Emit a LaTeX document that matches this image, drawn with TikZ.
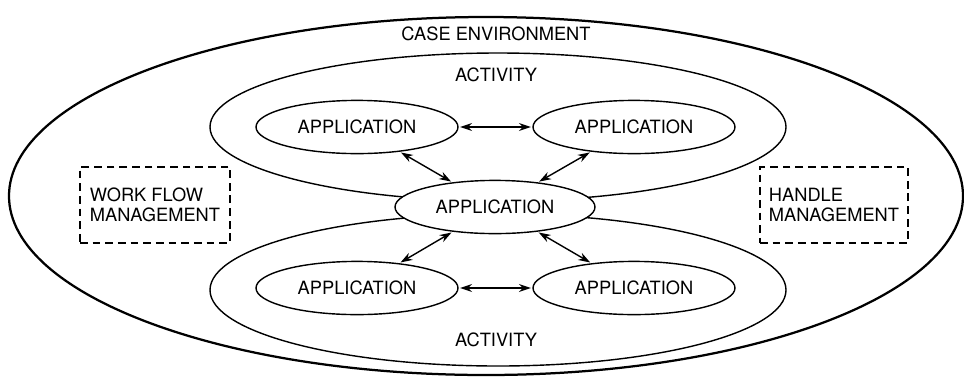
\documentclass[tikz,border=0pt]{standalone}
\usepackage{fontspec}
\setmainfont{TeX Gyre Heros}
\usetikzlibrary{arrows.meta, positioning, shapes.geometric}
\tikzset{
  every picture/.style={font=\fontsize{13}{14.5}\selectfont, line width=1pt},
  oval/.style={ellipse, draw, inner sep=0pt, minimum width=#1},
  app/.style={oval=5.05cm, fill=white, minimum height=1.33cm},
  link/.style={{Stealth[length=3mm, width=2mm]}-{Stealth[length=3mm, width=2mm]}, shorten <=1pt, shorten >=1pt},
  mgmt/.style={draw, dash pattern=on 5.5pt off 3.5pt, align=left, minimum height=1.9cm, minimum width=#1},
  heading/.style={inner sep=1pt},
}

\begin{document}
\begin{tikzpicture}
  \useasboundingbox (0,0) rectangle (24.1,-9.4);
  % case environment and the two activities
  \node[oval=23.85cm, minimum height=8.95cm, line width=1.6pt] (env) at (12.15,-4.9) {};
  \node[heading] (envt) at (12.4,-0.85) {CASE ENVIRONMENT};
  \node[oval=14.4cm, minimum height=3.7cm] (act1) at (12.45,-3.175) {};
  \node[oval=14.4cm, minimum height=3.8cm] (act2) at (12.45,-7.25) {};
  \node[heading] (act1t) at (12.4,-1.875) {ACTIVITY};
  \node[heading] (act2t) at (12.4,-8.5) {ACTIVITY};
  % applications
  \node[app, minimum width=5cm] (c) at (12.375,-5.175) {APPLICATION};
  \node[app] (tl) at (8.925,-3.175) {APPLICATION};
  \node[app] (tr) at (15.85,-3.175) {APPLICATION};
  \node[app] (bl) at (8.925,-7.2) {APPLICATION};
  \node[app] (br) at (15.85,-7.2) {APPLICATION};
  \draw[link] (tl) -- (tr);
  \draw[link] (bl) -- (br);
  \foreach \a in {tl, tr, bl, br} {
    \draw[link] (\a) -- (c);
  }
  % management boxes
  \node[mgmt=3.75cm] (wf) at (3.875,-5.125) {WORK FLOW\\MANAGEMENT};
  \node[mgmt=3.7cm] (hm) at (20.85,-5.125) {HANDLE\\MANAGEMENT};
\end{tikzpicture}
\end{document}
